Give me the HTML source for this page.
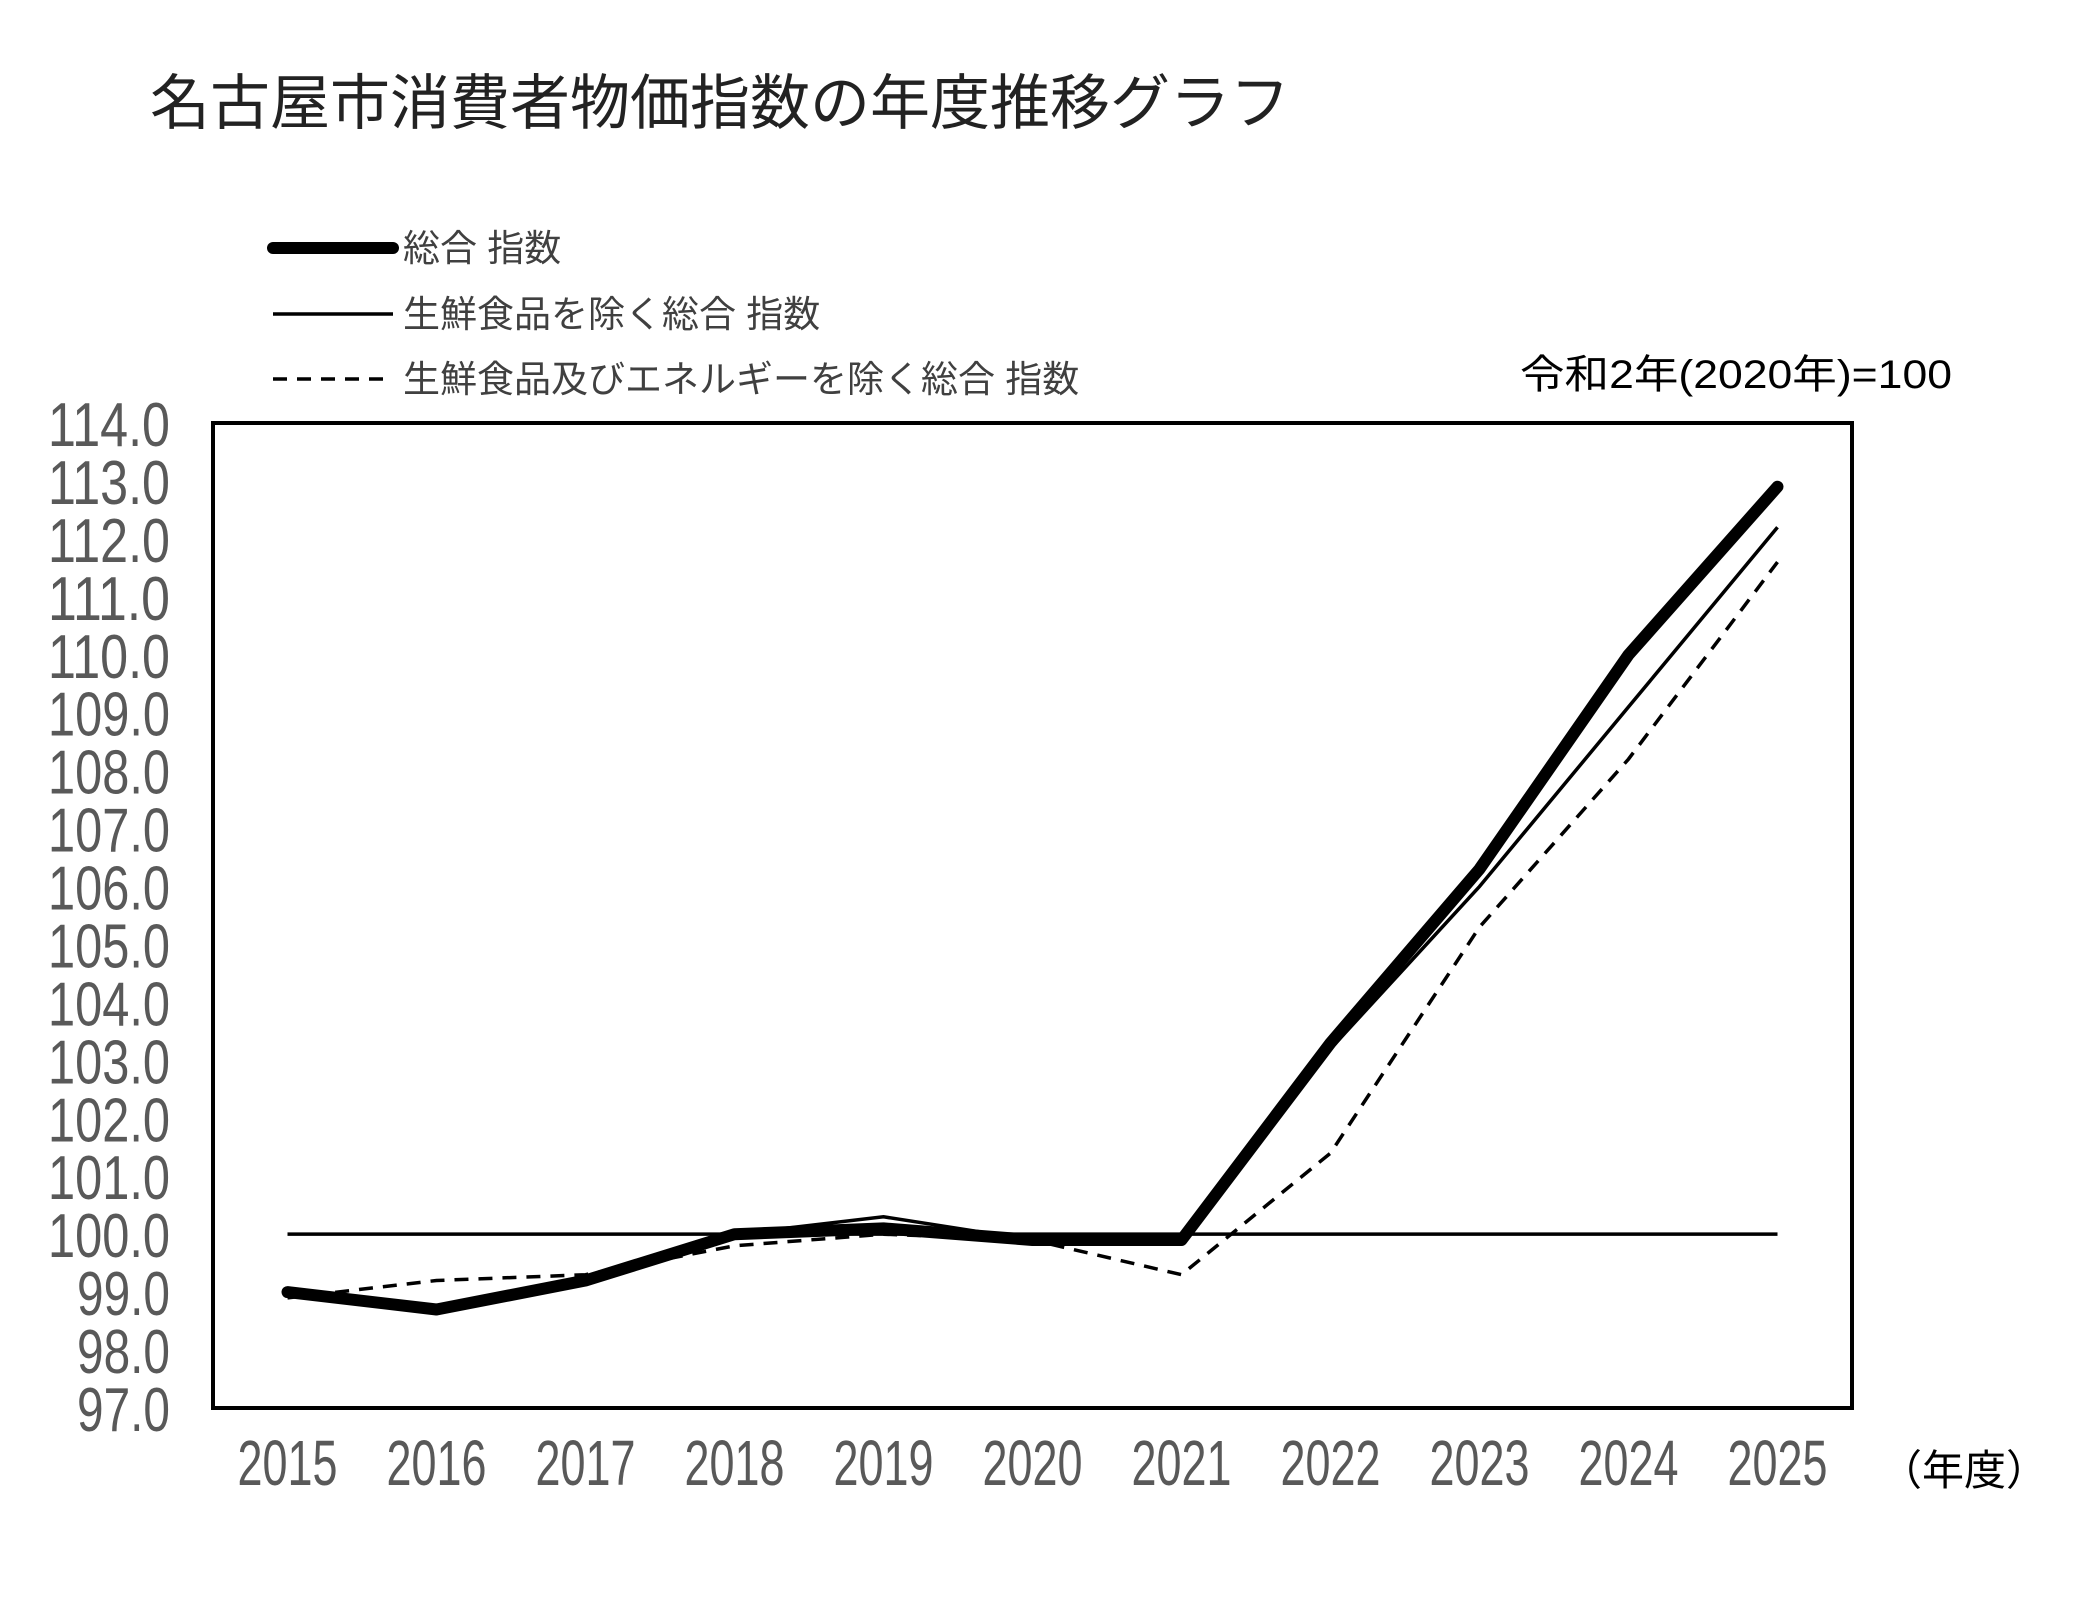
<!DOCTYPE html>
<html><head><meta charset="utf-8"><style>
html,body{margin:0;padding:0;background:#fff;}
svg{display:block;}
text{font-family:"Liberation Sans","Noto Sans CJK JP",sans-serif;}
</style></head><body>
<svg id="chart" width="2076" height="1624" viewBox="0 0 2076 1624" xmlns="http://www.w3.org/2000/svg">
<text x="150" y="124" font-size="60" fill="#222">名古屋市消費者物価指数の年度推移グラフ</text>
<g>
  <g>
    <line x1="273" y1="248" x2="393" y2="248" stroke="#000" stroke-width="12" stroke-linecap="round"/>
    <text x="403" y="261" font-size="37" fill="#404040">総合 指数</text>
  </g>
  <g>
    <line x1="273" y1="314" x2="393" y2="314" stroke="#000" stroke-width="3.5"/>
    <text x="403" y="327" font-size="37" fill="#404040">生鮮食品を除く総合 指数</text>
  </g>
  <g>
    <line x1="273" y1="379" x2="393" y2="379" stroke="#000" stroke-width="3.5" stroke-dasharray="14 10"/>
    <text x="403" y="392" font-size="37" fill="#404040">生鮮食品及びエネルギーを除く総合 指数</text>
  </g>
</g>
<text x="1952" y="388" font-size="40" fill="#000" text-anchor="end" textLength="432" lengthAdjust="spacingAndGlyphs">令和2年(2020年)=100</text>
<rect x="213" y="423" width="1639" height="985" fill="none" stroke="#000" stroke-width="4"/>
<g id="yaxis"></g>
<g id="xaxis"></g>
<g id="series"></g>
<text x="1880" y="1485" font-size="42" fill="#000">（年度）</text>
</svg>
<script>
const categories = ["2015","2016","2017","2018","2019","2020","2021","2022","2023","2024","2025"];
const totalIndex = [99.0, 98.7, 99.2, 100.0, 100.1, 99.9, 99.9, 103.3, 106.3, 110.0, 112.9];
const coreIndex = [99.0, 98.7, 99.2, 100.0, 100.3, 99.9, 99.9, 103.2, 106.0, 109.1, 112.2];
const coreCoreIndex = [98.9, 99.2, 99.3, 99.8, 100.0, 99.9, 99.3, 101.4, 105.3, 108.2, 111.6];
const baseLine = [100, 100];
const yTicks = [97,98,99,100,101,102,103,104,105,106,107,108,109,110,111,112,113,114];

const NS = "http://www.w3.org/2000/svg";
const L = 213, R = 1852, T = 423, B = 1408, YMIN = 97, YMAX = 114;
const step = (R - L) / categories.length;
function xPos(i){ return L + step * (i + 0.5); }
function yPos(v){ return B - (v - YMIN) / (YMAX - YMIN) * (B - T); }
function mk(tag, attrs, parent){ const e = document.createElementNS(NS, tag); for (const k in attrs) e.setAttribute(k, attrs[k]); parent.appendChild(e); return e; }

const yaxis = document.getElementById('yaxis');
yTicks.forEach(v => {
  const s = v.toFixed(1);
  const t = mk('text', {x:170, y:yPos(v)+23, 'font-size':62, fill:'#595959', 'text-anchor':'end', textLength:(s.length===5?122:93), lengthAdjust:'spacingAndGlyphs'}, yaxis);
  t.textContent = s;
  
  
});
const xaxis = document.getElementById('xaxis');
categories.forEach((c, i) => {
  const t = mk('text', {x:xPos(i), y:1485, 'font-size':64, fill:'#595959', 'text-anchor':'middle', textLength:100, lengthAdjust:'spacingAndGlyphs'}, xaxis);
  t.textContent = c;
  
  
});
const series = document.getElementById('series');
const bl = mk('line', {x1:xPos(0), y1:yPos(baseLine[0]), x2:xPos(categories.length-1), y2:yPos(baseLine[1]), stroke:'#000', 'stroke-width':3.5}, series);


function pts(arr){ return arr.map((v,i)=>xPos(i).toFixed(1)+','+yPos(v).toFixed(1)).join(' '); }
const dl = mk('polyline', {points:pts(coreCoreIndex), fill:'none', stroke:'#000', 'stroke-width':3.5, 'stroke-dasharray':'14 10'}, series);


const cl = mk('polyline', {points:pts(coreIndex), fill:'none', stroke:'#000', 'stroke-width':3.5}, series);


const tl = mk('polyline', {points:pts(totalIndex), fill:'none', stroke:'#000', 'stroke-width':12, 'stroke-linecap':'round', 'stroke-linejoin':'round'}, series);


</script>
</body></html>
